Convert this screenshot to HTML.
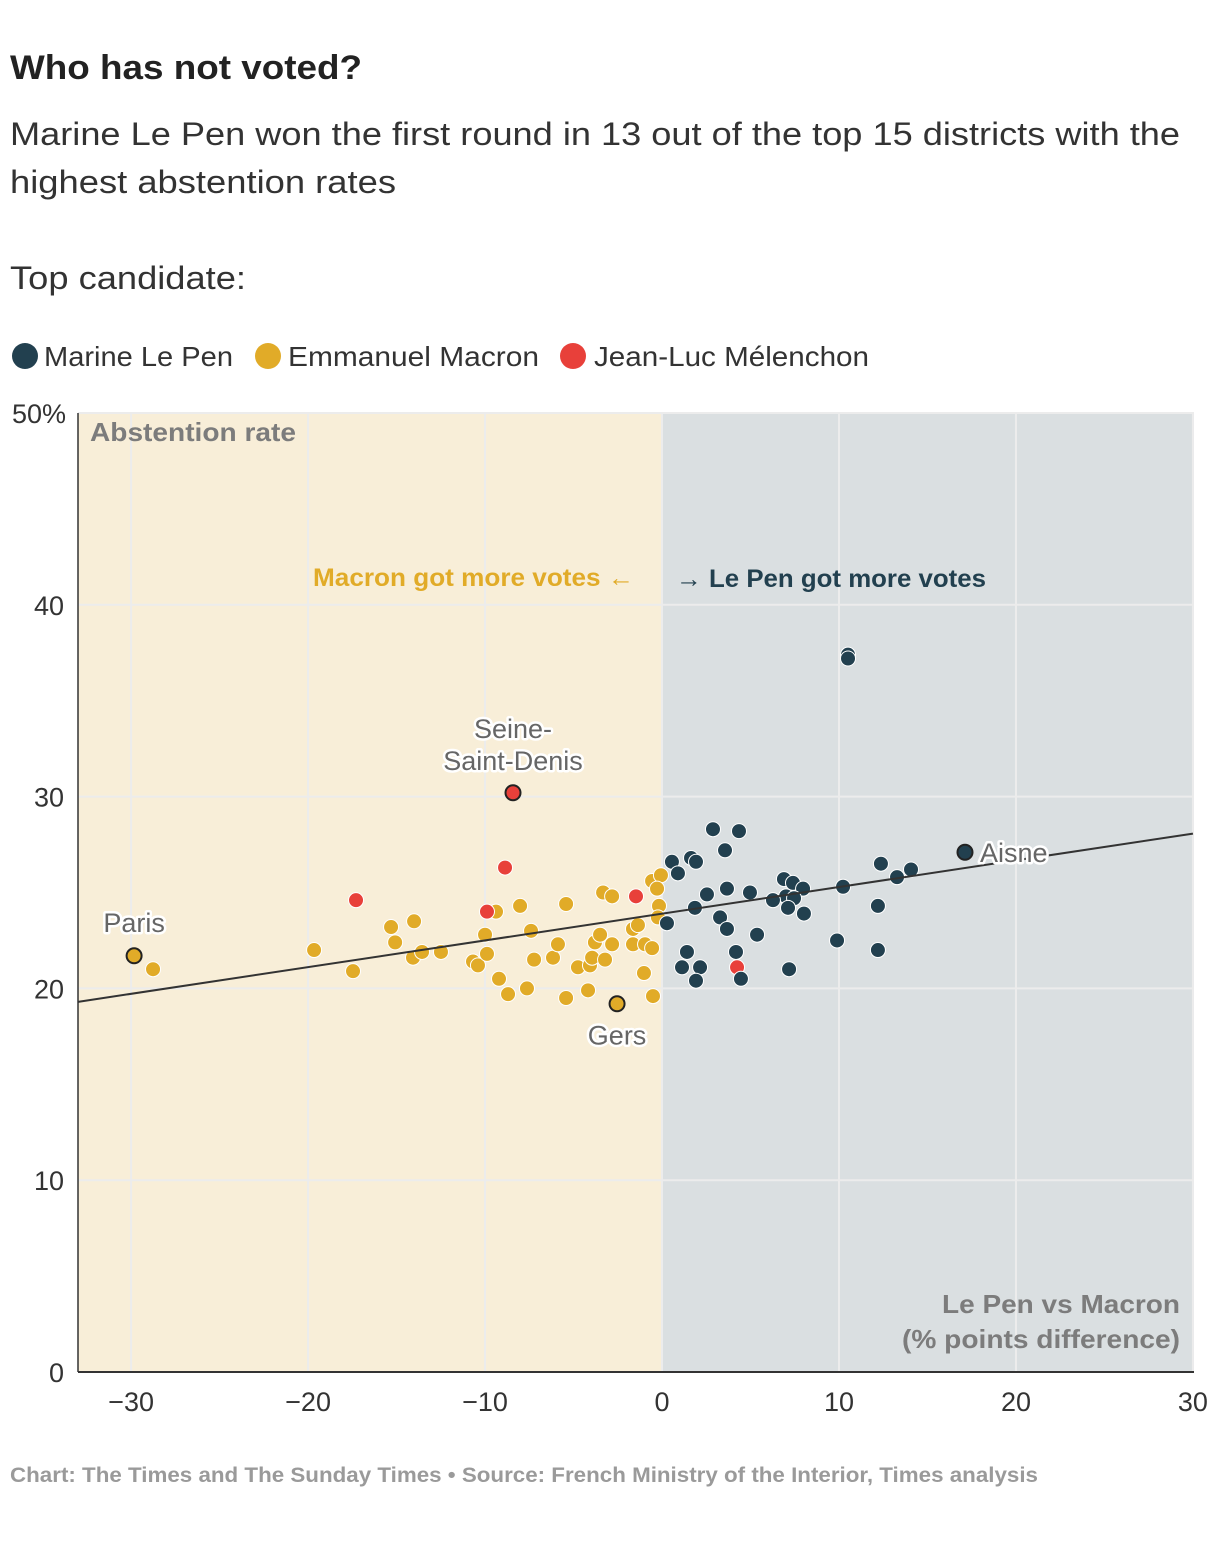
<!DOCTYPE html>
<html><head><meta charset="utf-8"><style>
body{margin:0;background:#fff;font-family:"Liberation Sans",Arial,sans-serif;}
svg{display:block}
</style></head><body>
<svg id="chart" width="1220" height="1550" viewBox="0 0 1220 1550" xmlns="http://www.w3.org/2000/svg" font-family="Liberation Sans, Arial, sans-serif">
<text x="10" y="79" font-size="34" font-weight="bold" fill="#222" textLength="352" lengthAdjust="spacingAndGlyphs">Who has not voted?</text>
<text x="10" y="145" font-size="32" fill="#333" textLength="1170" lengthAdjust="spacingAndGlyphs">Marine Le Pen won the first round in 13 out of the top 15 districts with the</text>
<text x="10" y="193" font-size="32" fill="#333" textLength="386" lengthAdjust="spacingAndGlyphs">highest abstention rates</text>
<text x="10" y="289" font-size="32" fill="#333" textLength="236" lengthAdjust="spacingAndGlyphs">Top candidate:</text>
<g>
<circle cx="25" cy="356" r="13" fill="#22404f"/>
<text x="44" y="366" font-size="28" fill="#333" textLength="189" lengthAdjust="spacingAndGlyphs">Marine Le Pen</text>
<circle cx="268" cy="356" r="13" fill="#e1ab28"/>
<text x="288" y="366" font-size="28" fill="#333" textLength="251" lengthAdjust="spacingAndGlyphs">Emmanuel Macron</text>
<circle cx="573" cy="356" r="13" fill="#e8403a"/>
<text x="594" y="366" font-size="28" fill="#333" textLength="275" lengthAdjust="spacingAndGlyphs">Jean-Luc Mélenchon</text>
</g>
<g id="plot"></g>
<text x="10" y="1482" font-size="21" fill="#9a9a9a" font-weight="bold" textLength="1028" lengthAdjust="spacingAndGlyphs">Chart: The Times and The Sunday Times • Source: French Ministry of the Interior, Times analysis</text>
</svg>
<script>
const xTicks=[-30,-20,-10,0,10,20,30];
const yTicks=[0,10,20,30,40,50];
const lepenX=[0.56,0.90,1.64,1.92,2.88,4.35,3.56,2.54,3.67,4.97,6.89,7.40,7.97,7.01,7.46,6.27,7.12,8.02,1.86,3.28,3.67,5.37,0.28,4.18,1.41,1.13,2.15,1.92,4.46,7.18,9.89,10.23,12.20,12.37,13.28,14.07,12.20,10.51,10.51];
const lepenY=[26.6,26.0,26.8,26.6,28.3,28.2,27.2,24.9,25.2,25.0,25.7,25.5,25.2,24.8,24.7,24.6,24.2,23.9,24.2,23.7,23.1,22.8,23.4,21.9,21.9,21.1,21.1,20.4,20.5,21.0,22.5,25.3,24.3,26.5,25.8,26.2,22.0,37.4,37.2];
const macronX=[-28.76,-19.66,-17.46,-15.31,-15.08,-14.01,-14.07,-13.56,-12.49,-10.68,-10.40,-10.00,-9.89,-9.38,-9.21,-8.70,-8.02,-7.63,-7.40,-7.23,-6.16,-5.88,-5.42,-5.42,-4.75,-4.18,-4.07,-3.95,-3.79,-3.50,-3.33,-2.82,-3.22,-2.82,-1.64,-1.36,-1.64,-0.96,-0.56,-1.02,-0.51,-0.56,-0.06,-0.28,-0.17,-0.23];
const macronY=[21.0,22.0,20.9,23.2,22.4,23.5,21.6,21.9,21.9,21.4,21.2,22.8,21.8,24.0,20.5,19.7,24.3,20.0,23.0,21.5,21.6,22.3,24.4,19.5,21.1,19.9,21.2,21.6,22.4,22.8,25.0,24.8,21.5,22.3,23.1,23.3,22.3,22.3,22.1,20.8,19.6,25.6,25.9,25.2,24.3,23.7];
const melenchonX=[-17.29,-8.87,-9.89,-1.47,4.24];
const melenchonY=[24.6,26.3,24.0,24.8,21.1];
const highlightNames=["Paris","Seine-Saint-Denis","Gers","Aisne"];
const highlightX=[-29.83,-8.42,-2.54,17.12];
const highlightY=[21.7,30.2,19.2,27.1];
const highlightParty=["macron","melenchon","macron","lepen"];
const trendX=[-33,30];
const trendY=[19.3,28.07];

const NS="http://www.w3.org/2000/svg";
const L=78,R=1194,T=413,B=1372,XMIN=-33,XMAX=30.06;
const sx=v=>L+(v-XMIN)/(XMAX-XMIN)*(R-L);
const sy=v=>B-v/50*(B-T);
const plot=document.getElementById('plot');
function mk(tag,attrs,parent){const e=document.createElementNS(NS,tag);for(const k in attrs)e.setAttribute(k,attrs[k]);(parent||plot).appendChild(e);return e;}
const colors={lepen:"#22404f",macron:"#e1ab28",melenchon:"#e8403a"};

let bg=mk('rect',{x:L,y:T,width:sx(0)-L,height:B-T,fill:"#f8eed8"});


bg=mk('rect',{x:sx(0),y:T,width:R-sx(0),height:B-T,fill:"#dadfe1"});



xTicks.forEach(t=>{
  const g=mk('line',{x1:sx(t),x2:sx(t),y1:T,y2:B,stroke:"#ececec","stroke-width":2});
  
  
  const lb=mk('text',{x:sx(t),y:1411,"font-size":27,fill:"#333","text-anchor":"middle"});
  lb.textContent=t<0?"\u2212"+Math.abs(t):String(t);
  
  
});
yTicks.forEach(t=>{
  const g=mk('line',{x1:L,x2:R,y1:sy(t),y2:sy(t),stroke:"#ececec","stroke-width":2});
  
  
  const lb=mk('text',{x:t===50?66:64,y:sy(t)+10,"font-size":27,fill:"#333","text-anchor":"end"});
  lb.textContent=t===50?"50%":String(t);
  
  
});
let ax=mk('line',{x1:L,x2:L,y1:T,y2:B,stroke:"#333","stroke-width":1.5});


ax=mk('line',{x1:L,x2:R,y1:B,y2:B,stroke:"#333","stroke-width":2});



function txt(s,attrs,name){const e=mk('text',attrs);e.textContent=s;return e;}
const adj={lengthAdjust:"spacingAndGlyphs"};
txt("Abstention rate",Object.assign({x:90,y:441,"font-size":26,"font-weight":"bold",fill:"#7c7c7c",textLength:206},adj),'y-axis-title');
txt("Macron got more votes \u2190",Object.assign({x:313,y:586,"font-size":25,"font-weight":"bold",fill:"#e1ab28",textLength:321},adj),'macron-direction-label');
txt("\u2192 Le Pen got more votes",Object.assign({x:676,y:587,"font-size":25,"font-weight":"bold",fill:"#22404f",textLength:310},adj),'lepen-direction-label');
txt("Le Pen vs Macron",Object.assign({x:942,y:1313,"font-size":26,"font-weight":"bold",fill:"#7c7c7c",textLength:238},adj),'x-axis-title');
txt("(% points difference)",Object.assign({x:902,y:1348,"font-size":26,"font-weight":"bold",fill:"#7c7c7c",textLength:278},adj),'x-axis-title-units');

function dots(xs,ys,party){
  xs.forEach((v,i)=>{
    const c=mk('circle',{cx:sx(v),cy:sy(ys[i]),r:7.5,fill:colors[party],stroke:"#fff","stroke-width":1});
    
    
  });
}
dots(macronX,macronY,'macron');
dots(melenchonX,melenchonY,'melenchon');
dots(lepenX,lepenY,'lepen');

const tl=mk('line',{x1:sx(trendX[0]),y1:sy(trendY[0]),x2:sx(trendX[1]),y2:sy(trendY[1]),stroke:"#333","stroke-width":2});



highlightX.forEach((v,i)=>{
  const c=mk('circle',{cx:sx(v),cy:sy(highlightY[i]),r:7.5,fill:colors[highlightParty[i]],stroke:"#222","stroke-width":2});
  
  
});
const lab={"font-size":27,fill:"#666",stroke:"#fff","stroke-width":5,"paint-order":"stroke","stroke-linejoin":"round"};
function hl(s,x,y,anchor){const a=Object.assign({x:x,y:y,"text-anchor":anchor},lab);return txt(s,a,'district-label');}
hl("Paris",sx(highlightX[0]),sy(highlightY[0])-24,"middle");
hl("Seine-",sx(highlightX[1]),sy(highlightY[1])-55,"middle");
hl("Saint-Denis",sx(highlightX[1]),sy(highlightY[1])-23,"middle");
hl("Gers",sx(highlightX[2]),sy(highlightY[2])+41,"middle");
hl("Aisne",sx(highlightX[3])+15,sy(highlightY[3])+10,"start");
</script>
</body></html>
